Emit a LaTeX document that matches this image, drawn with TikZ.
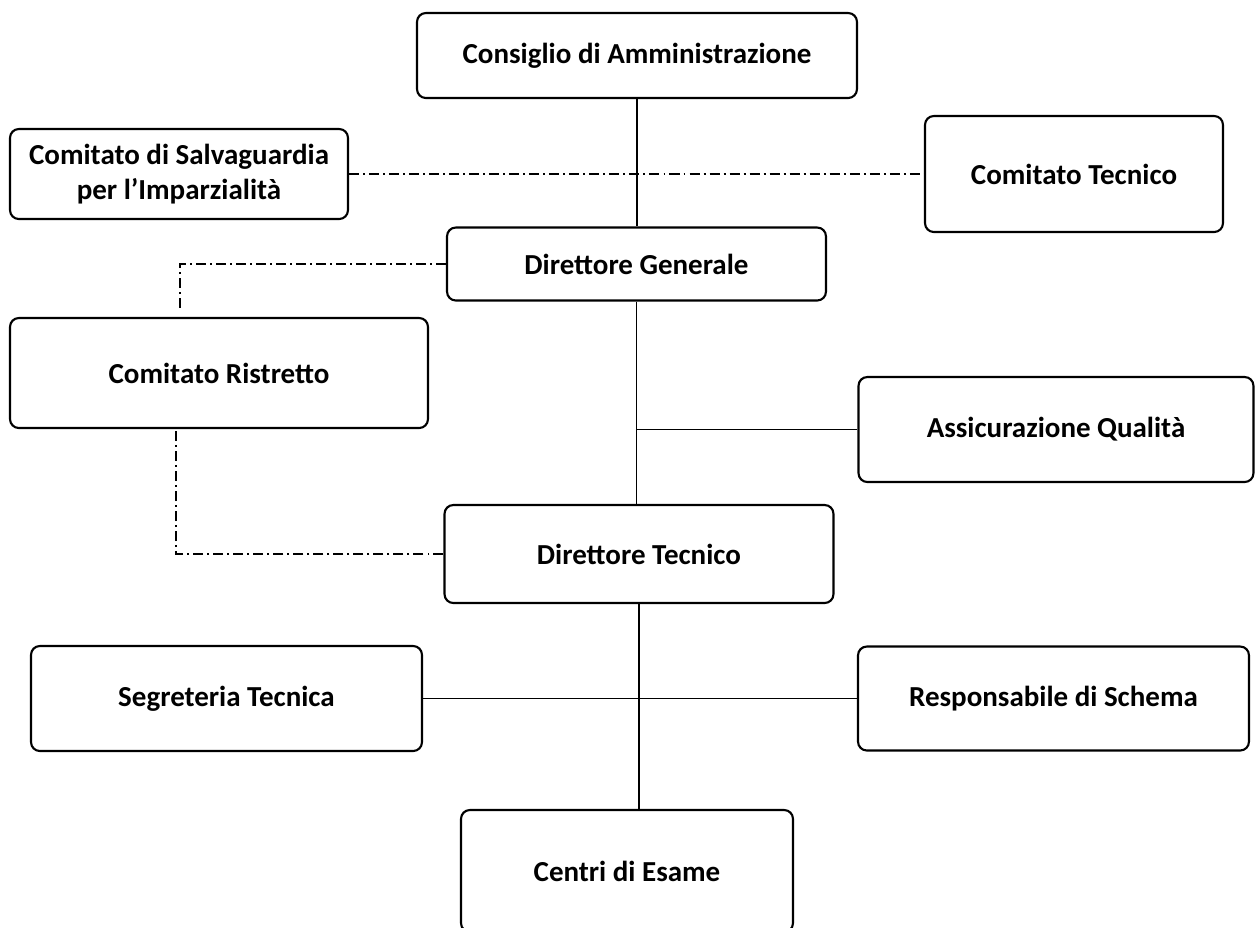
\documentclass[tikz,border=0pt]{standalone}
\usepackage{fontspec}
\setmainfont{Carlito}
\usepackage{tikz}
\usetikzlibrary{calc}

\tikzset{
  unit/.style={draw=black, line width=1.2pt, rounded corners=5pt, align=center,
    inner sep=0pt, font=\bfseries\fontsize{16.5}{20}\selectfont},
  link/.style={line width=0.75pt},
  staff/.style={line width=0.75pt, dash pattern=on 5.7pt off 2.3pt on 1.1pt off 2.3pt}
}

\begin{document}
\begin{tikzpicture}[x=0.02cm, y=-0.02cm]
%\draw[help lines, step=50] (0,0) grid (1255,927);
\useasboundingbox (0,0) rectangle (1255,927);

\node[unit, minimum width=8.8cm, minimum height=1.7cm] (cda) at (637,55.5) {Consiglio di Amministrazione};
\node[unit, minimum width=6.76cm, minimum height=1.8cm] (csi) at (179,174) {Comitato di Salvaguardia\\per l’Imparzialità};
\node[unit, minimum width=5.96cm, minimum height=2.32cm] (ctec) at (1074,174) {Comitato Tecnico};
\node[unit, minimum width=7.58cm, minimum height=1.46cm] (dg) at (636.5,264) {Direttore Generale};
\node[unit, minimum width=8.36cm, minimum height=2.2cm] (cr) at (219,373) {Comitato Ristretto};
\node[unit, minimum width=7.9cm, minimum height=2.1cm] (aq) at (1056,429.5) {Assicurazione Qualità};
\node[unit, minimum width=7.78cm, minimum height=1.96cm] (dt) at (639,554) {Direttore Tecnico};
\node[unit, minimum width=7.82cm, minimum height=2.1cm] (st) at (226.5,698.5) {Segreteria Tecnica};
\node[unit, minimum width=7.82cm, minimum height=2.08cm] (rs) at (1053.5,698.5) {Responsabile di Schema};
\node[unit, minimum width=6.64cm, minimum height=2.44cm] (ce) at (627,871) {Centri di Esame};

\coordinate (cr1) at (180,312);
\coordinate (cr2) at (176,431);

\draw[link] (cda.south) -- (cda.south |- dg.north);
\draw[staff] (csi.east) -- (ctec.west);
\draw[staff] (dg.west) -| (cr1);
\draw[staff] (dt.west) -| (cr2);
\draw[link] (dg.south) -- (dg.south |- dt.north);
\draw[link] (aq.west) -- (aq.west -| dg.south);
\draw[link] (dt.south) -- (dt.south |- ce.north);
\draw[link] (st.east) -- (rs.west);
\end{tikzpicture}
\end{document}
